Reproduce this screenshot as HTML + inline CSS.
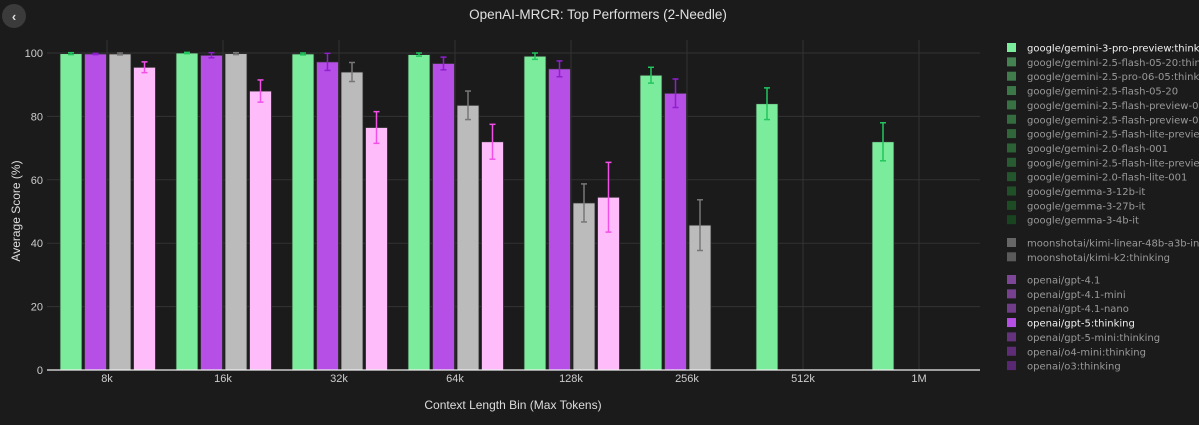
<!DOCTYPE html>
<html><head><meta charset="utf-8"><style>
body{margin:0;background:#1b1b1b;font-family:"Liberation Sans",sans-serif;}
svg text{font-family:"Liberation Sans",sans-serif;}
</style></head><body>
<svg id="c" width="1199" height="420" xmlns="http://www.w3.org/2000/svg">
<rect width="1199" height="420" fill="#1b1b1b"/>
<g><circle cx="14" cy="16" r="12" fill="#3b3b3b"/><text x="14" y="21" fill="#ddd" font-size="13" text-anchor="middle" font-weight="bold">‹</text></g>
<text x="598" y="19" fill="#e0e0e0" font-size="13.5" text-anchor="middle">OpenAI-MRCR: Top Performers (2-Needle)</text>
<g id="grid"></g><g id="bars"></g><g id="axes"></g><g id="legend"></g>
<text x="513" y="409" fill="#ddd" font-size="12" text-anchor="middle">Context Length Bin (Max Tokens)</text>
<text transform="translate(20,211) rotate(-90)" fill="#ddd" font-size="12" text-anchor="middle">Average Score (%)</text>
</svg>
<script>
const categories=["8k","16k","32k","64k","128k","256k","512k","1M"];
const gemini3=[99.8,100,99.7,99.5,99,93,84,72];
const gemini3Err=[0.3,0.2,0.3,0.5,1,2.5,5,6];
const gpt5=[99.7,99.3,97.2,96.7,95,87.3,null,null];
const gpt5Err=[0.2,0.8,2.7,2,2.5,4.5,0,0];
const kimi=[99.7,99.8,94,83.5,52.7,45.7,null,null];
const kimiErr=[0.3,0.3,3,4.5,6,8,0,0];
const pink=[95.5,88,76.5,72,54.5,null,null,null];
const pinkErr=[1.7,3.5,5,5.5,11,0,0,0];
const yTicks=[0,20,40,60,80,100];
const legendLabels=["google/gemini-3-pro-preview:thinking","google/gemini-2.5-flash-05-20:thinking","google/gemini-2.5-pro-06-05:thinking","google/gemini-2.5-flash-05-20","google/gemini-2.5-flash-preview-09-2025","google/gemini-2.5-flash-preview-09-2025:thinking","google/gemini-2.5-flash-lite-preview-06-17","google/gemini-2.0-flash-001","google/gemini-2.5-flash-lite-preview-09-2025","google/gemini-2.0-flash-lite-001","google/gemma-3-12b-it","google/gemma-3-27b-it","google/gemma-3-4b-it","moonshotai/kimi-linear-48b-a3b-instruct","moonshotai/kimi-k2:thinking","openai/gpt-4.1","openai/gpt-4.1-mini","openai/gpt-4.1-nano","openai/gpt-5:thinking","openai/gpt-5-mini:thinking","openai/o4-mini:thinking","openai/o3:thinking"];
const NS="http://www.w3.org/2000/svg";
const X0=49,STEP=116,Y0=370,YS=3.17;
const xC=i=>X0+STEP*(i+0.5);
const yP=v=>Y0-v*YS;
function mk(t,a,p){const e=document.createElementNS(NS,t);for(const k in a)e.setAttribute(k,a[k]);p.appendChild(e);return e;}
const grid=document.getElementById('grid'),bars=document.getElementById('bars'),axes=document.getElementById('axes'),leg=document.getElementById('legend');
yTicks.forEach(t=>{if(t>0){const l=mk('line',{x1:47,x2:980,y1:yP(t),y2:yP(t),stroke:'#333','stroke-width':1},grid);}
const tx=mk('text',{x:43,y:yP(t)+4,fill:'#ccc','font-size':11,'text-anchor':'end'},axes);tx.textContent=t;});
categories.forEach((c,i)=>{const l=mk('line',{x1:xC(i),x2:xC(i),y1:40,y2:Y0,stroke:'#333','stroke-width':1},grid);
const tx=mk('text',{x:xC(i),y:Y0+12,fill:'#ccc','font-size':11,'text-anchor':'middle'},axes);tx.textContent=c;});
const series=[[gemini3,gemini3Err,'#7bec9b','#22c55e','gemini-3-bar'],[gpt5,gpt5Err,'#b64fe6','#8f1fd0','gpt-5-bar'],[kimi,kimiErr,'#bbbbbb','#777','kimi-bar'],[pink,pinkErr,'#ffbcfb','#f050e6','pink-bar']];
series.forEach((s,si)=>{s[0].forEach((v,i)=>{if(v==null)return;const x=xC(i)-47+si*24.5;
const r=mk('rect',{x:x,y:yP(v),width:22,height:Y0-yP(v),fill:s[2],stroke:'#2a2a2a','stroke-width':0.8},bars);
const e=s[1][i],cx=x+11,t=yP(Math.min(v+e,100.2)),b=yP(v-e);
const g=mk('g',{stroke:s[3],'stroke-width':1.5},bars);
mk('line',{x1:cx,x2:cx,y1:t,y2:b},g);mk('line',{x1:cx-3,x2:cx+3,y1:t,y2:t},g);mk('line',{x1:cx-3,x2:cx+3,y1:b,y2:b},g);});});
const ax=mk('line',{x1:47,x2:980,y1:Y0,y2:Y0,stroke:'#eee','stroke-width':1.2},axes);
legendLabels.forEach((lab,i)=>{let y;if(i<13)y=48+i*14.35;else if(i<15)y=243+(i-13)*14.3;else y=280+(i-15)*14.35;
let col,tc='#999';if(i<13){const g=Math.round(135-i*5.5);col=i==0?'#7bec9b':`rgb(${Math.round(72-i*4)},${g},${Math.round(85-i*4.5)})`;}else if(i<15)col=i==13?'#666':'#5a5a5a';else{col=i==18?'#b64fe6':`rgb(${125-(i-15)*6},${70-(i-15)*5},${150-(i-15)*6})`;}
if(i==0||i==18)tc='#f0f0f0';
const g=mk('g',{},leg);
mk('rect',{x:1007,y:y-5,width:9,height:9,fill:col},g);
const t=mk('text',{x:1027,y:y+3.5,fill:tc,'font-size':10,style:'font-family:"DejaVu Sans",sans-serif'},g);t.textContent=lab;});
</script>
</body></html>
